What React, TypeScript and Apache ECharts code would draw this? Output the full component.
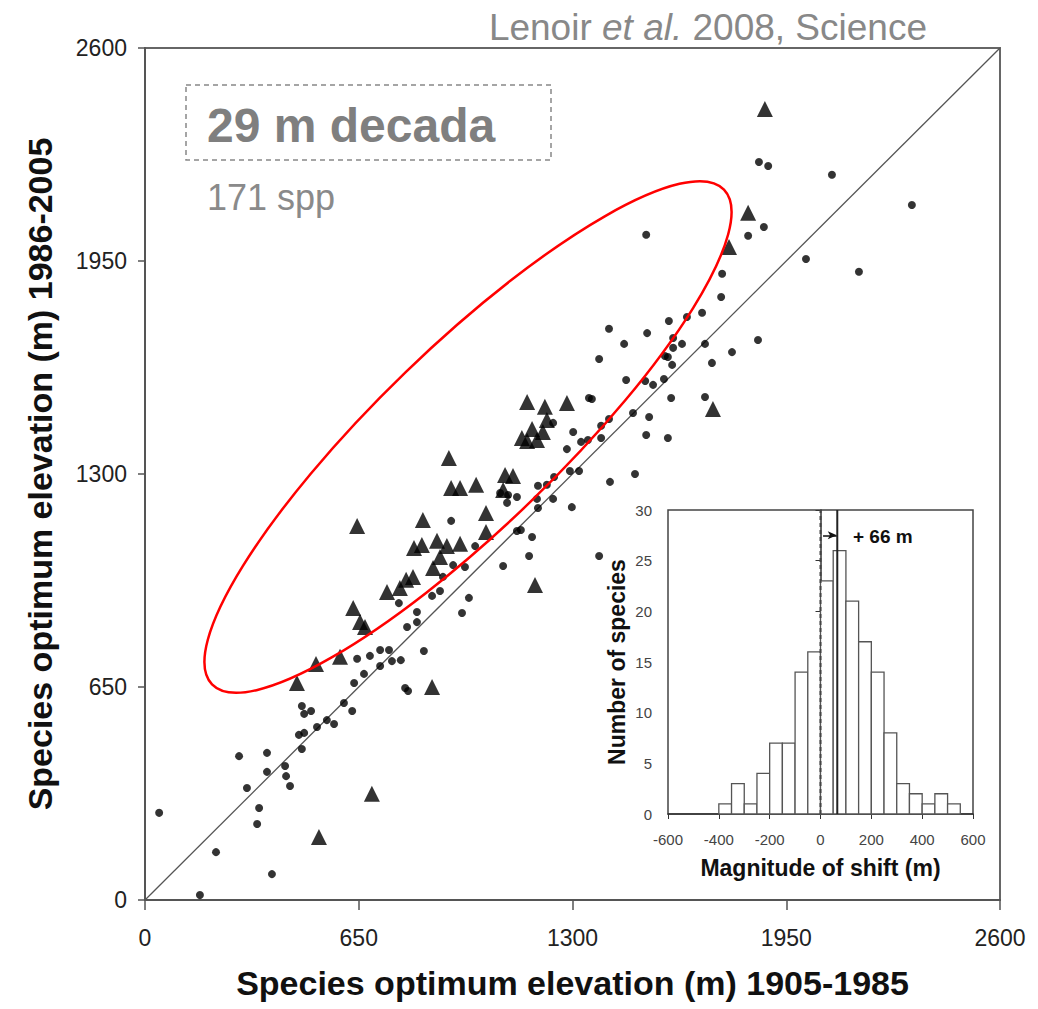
import React, { useEffect, useRef } from "react";
import * as echarts from "echarts";

// Main scatter: species optimum elevation (m), [1905-1985, 1986-2005]
const circlePoints: [number, number][] = [
  [167, 15], [386, 79], [216, 146], [43, 266], [341, 232], [347, 281], [310, 342], [441, 348],
  [429, 378], [371, 391], [426, 409], [286, 439], [371, 449], [477, 461], [468, 504], [484, 510],
  [523, 528], [575, 537], [553, 549], [484, 568], [505, 577], [477, 592], [605, 601], [630, 577],
  [791, 647], [800, 638], [636, 662], [666, 690], [715, 714], [751, 729], [778, 732], [645, 736],
  [684, 745], [715, 763], [742, 763], [848, 760], [772, 906], [797, 833], [827, 848], [827, 879],
  [964, 876], [985, 922], [873, 928], [897, 943], [906, 986], [937, 1022], [973, 1016], [1004, 1080],
  [1089, 1019], [931, 1157], [1080, 1242], [1104, 1236], [1131, 1230], [1101, 1212], [1131, 1126],
  [1143, 1129], [1177, 1108], [1168, 1050], [1192, 1224], [1241, 1224], [1195, 1196], [1298, 1199],
  [1195, 1264], [1222, 1267], [1244, 1291], [1292, 1309], [1320, 1309], [1283, 1376], [1326, 1398],
  [1347, 1404], [1302, 1428], [1241, 1456], [1350, 1532], [1387, 1447], [1411, 1468], [1359, 1529],
  [1387, 1410], [1484, 1486], [1533, 1474], [1524, 1419], [1590, 1410], [1600, 1532], [1703, 1535],
  [1463, 1587], [1521, 1584], [1545, 1572], [1578, 1590], [1381, 1651], [1581, 1660], [1590, 1657],
  [1603, 1633], [1606, 1715], [1606, 1685], [1633, 1697], [1703, 1697], [1724, 1639], [1785, 1672],
  [1864, 1709], [1411, 1743], [1527, 1730], [1457, 1697], [1593, 1767], [1648, 1779], [1694, 1792],
  [1752, 1840], [1755, 1911], [1524, 2030], [1834, 2027], [1882, 2054], [1867, 2252], [1895, 2240],
  [2089, 2213], [2332, 2121], [2010, 1956], [2171, 1917], [1490, 1300], [1414, 1276], [1381, 1050]
];

const trianglePoints: [number, number][] = [
  [529, 192], [690, 324], [873, 650], [462, 662], [520, 720], [593, 742], [645, 1141], [633, 891],
  [654, 848], [669, 833], [736, 940], [775, 952], [815, 986], [794, 977], [876, 1013], [897, 1047],
  [888, 1096], [818, 1074], [842, 1083], [918, 1080], [958, 1087], [845, 1160], [924, 1349],
  [931, 1257], [958, 1257], [1007, 1267], [1037, 1181], [1037, 1123], [1095, 1297], [1119, 1294],
  [1089, 1251], [1162, 1520], [1283, 1517], [1216, 1505], [1222, 1465], [1177, 1437], [1210, 1428],
  [1146, 1410], [1162, 1401], [1192, 1404], [1186, 961], [1727, 1498], [1776, 1993], [1834, 2097],
  [1885, 2414]
];

const mainTicks = [0, 650, 1300, 1950, 2600];
const oneToOne: [number, number][] = [[0, 0], [2600, 2600]];

// Inset histogram: magnitude of shift (m)
const binStarts = [-400, -350, -300, -250, -200, -150, -100, -50, 0, 50, 100, 150, 200, 250, 300, 350, 400, 450, 500];
const binCounts = [1, 3, 1, 4, 7, 7, 14, 16, 23, 26, 21, 17, 14, 8, 3, 2, 1, 2, 1];
const binWidth = 50;
const insetXTicks = [-600, -400, -200, 0, 200, 400, 600];
const insetYTicks = [0, 5, 10, 15, 20, 25, 30];
const meanShift = 66;
const arrowY = 27.5;

const plain = (v: number) => String(v);

export default function App() {
  const ref = useRef<HTMLDivElement>(null);

  useEffect(() => {
    if (!ref.current) return;
    const chart = echarts.init(ref.current, null, { renderer: "svg" });

    const histData = binStarts.map((s, i) => [s, s + binWidth, binCounts[i]]);

    const option: any = {
      animation: false,
      backgroundColor: "#ffffff",
      grid: [
        {
          left: 145, top: 48, width: 855, height: 852,
          show: true, borderColor: "#666", borderWidth: 2, backgroundColor: "transparent"
        },
        {
          left: 668, top: 510, width: 305, height: 304,
          show: true, borderColor: "#444", borderWidth: 1.5, backgroundColor: "#fff"
        }
      ],
      xAxis: [
        {
          gridIndex: 0, type: "value",
          min: mainTicks[0], max: mainTicks[mainTicks.length - 1], interval: mainTicks[1] - mainTicks[0],
          name: "Species optimum elevation (m) 1905-1985",
          nameLocation: "middle", nameGap: 66,
          nameTextStyle: { fontFamily: "Liberation Sans, Arial", fontWeight: "bold", fontSize: 34, color: "#111" },
          axisLine: { show: true, lineStyle: { color: "#555", width: 2 } },
          axisTick: { show: true, length: 10, lineStyle: { color: "#555", width: 1.5 } },
          axisLabel: { fontFamily: "Liberation Sans, Arial", fontSize: 23, color: "#222", margin: 26, formatter: plain },
          splitLine: { show: false }
        },
        {
          gridIndex: 1, type: "value",
          min: insetXTicks[0], max: insetXTicks[insetXTicks.length - 1], interval: insetXTicks[1] - insetXTicks[0],
          name: "Magnitude of shift (m)",
          nameLocation: "middle", nameGap: 42,
          nameTextStyle: { fontFamily: "Liberation Sans, Arial", fontWeight: "bold", fontSize: 23, color: "#111" },
          axisLine: { show: true, lineStyle: { color: "#333", width: 1.5 } },
          axisTick: { show: true, length: 5, lineStyle: { color: "#333" } },
          axisLabel: { fontFamily: "Liberation Sans, Arial", fontSize: 15, color: "#444", margin: 18, formatter: plain },
          splitLine: { show: false }
        }
      ],
      yAxis: [
        {
          gridIndex: 0, type: "value",
          min: mainTicks[0], max: mainTicks[mainTicks.length - 1], interval: mainTicks[1] - mainTicks[0],
          name: "Species optimum elevation (m) 1986-2005",
          nameLocation: "middle", nameGap: 88, nameRotate: 90,
          nameTextStyle: { fontFamily: "Liberation Sans, Arial", fontWeight: "bold", fontSize: 34, color: "#111" },
          axisLine: { show: true, lineStyle: { color: "#555", width: 2 } },
          axisTick: { show: true, length: 7, lineStyle: { color: "#555", width: 1.5 } },
          axisLabel: { fontFamily: "Liberation Sans, Arial", fontSize: 23, color: "#222", margin: 18, formatter: plain },
          splitLine: { show: false }
        },
        {
          gridIndex: 1, type: "value",
          min: insetYTicks[0], max: insetYTicks[insetYTicks.length - 1], interval: insetYTicks[1] - insetYTicks[0],
          name: "Number of species",
          nameLocation: "middle", nameGap: 40, nameRotate: 90,
          nameTextStyle: { fontFamily: "Liberation Sans, Arial", fontWeight: "bold", fontSize: 23, color: "#111" },
          axisLine: { show: true, lineStyle: { color: "#333", width: 1.5 } },
          axisTick: { show: true, length: 5, lineStyle: { color: "#333" } },
          axisLabel: { fontFamily: "Liberation Sans, Arial", fontSize: 15, color: "#444", margin: 16 },
          splitLine: { show: false }
        }
      ],
      series: [
        {
          type: "line", xAxisIndex: 0, yAxisIndex: 0, data: oneToOne,
          symbol: "none", lineStyle: { color: "#555", width: 1.3 }, z: 1, silent: true
        },
        {
          type: "scatter", xAxisIndex: 0, yAxisIndex: 0, data: circlePoints,
          symbol: "circle", symbolSize: 8, itemStyle: { color: "#000" }, z: 3
        },
        {
          type: "scatter", xAxisIndex: 0, yAxisIndex: 0, data: trianglePoints,
          symbol: "triangle", symbolSize: 16, itemStyle: { color: "#000" }, z: 3
        },
        {
          type: "custom", xAxisIndex: 1, yAxisIndex: 1, data: histData,
          encode: { x: [0, 1], y: 2 },
          renderItem: (params: any, api: any) => {
            const p0 = api.coord([api.value(0), api.value(2)]);
            const p1 = api.coord([api.value(1), 0]);
            return {
              type: "rect",
              shape: { x: p0[0], y: p0[1], width: p1[0] - p0[0], height: p1[1] - p0[1] },
              style: { fill: "#fff", stroke: "#555", lineWidth: 1.3 }
            };
          },
          z: 5
        },
        {
          type: "line", xAxisIndex: 1, yAxisIndex: 1,
          data: [[0, insetYTicks[0]], [0, insetYTicks[insetYTicks.length - 1]]],
          symbol: "none", lineStyle: { color: "#444", width: 2, type: [4, 3] }, z: 6
        },
        {
          type: "line", xAxisIndex: 1, yAxisIndex: 1,
          data: [[meanShift, insetYTicks[0]], [meanShift, insetYTicks[insetYTicks.length - 1]]],
          symbol: "none", lineStyle: { color: "#222", width: 2 }, z: 6,
          markLine: {
            silent: true,
            symbol: ["none", "arrow"], symbolSize: [6, 9],
            label: { show: false },
            lineStyle: { color: "#111", width: 1.5, type: "solid" },
            data: [[{ coord: [10, arrowY] }, { coord: [meanShift - 2, arrowY] }]]
          }
        }
      ],
      graphic: [
        {
          type: "ellipse", x: 468, y: 437, rotation: (44 * Math.PI) / 180,
          shape: { cx: 0, cy: 0, rx: 356, ry: 90 },
          style: { fill: "transparent", stroke: "#ff0000", lineWidth: 2.5 }, z: 10, silent: true
        },
        {
          type: "rect", shape: { x: 186, y: 85, width: 365, height: 75 },
          style: { fill: "transparent", stroke: "#888", lineWidth: 1.5, lineDash: [5, 4] }, z: 10
        },
        {
          type: "text", x: 207, y: 125,
          style: {
            text: "29 m decada", fill: "#7f7f7f", font: "bold 48px 'Liberation Sans', Arial",
            verticalAlign: "middle"
          }, z: 10
        },
        {
          type: "text", x: 207, y: 197,
          style: {
            text: "171 spp", fill: "#8a8a8a", font: "36px 'Liberation Sans', Arial",
            verticalAlign: "middle"
          }, z: 10
        },
        {
          type: "text", x: 927, y: 27,
          style: {
            text: "{n|Lenoir }{i|et al.}{n| 2008, Science}",
            align: "right", verticalAlign: "middle",
            rich: {
              n: { fill: "#888", fontSize: 37, fontFamily: "Liberation Sans, Arial" },
              i: { fill: "#888", fontSize: 37, fontFamily: "Liberation Sans, Arial", fontStyle: "italic" }
            }
          }, z: 10
        },
        {
          type: "text", x: 853, y: 536,
          style: {
            text: "+ 66 m", fill: "#111", font: "bold 19px 'Liberation Sans', Arial",
            verticalAlign: "middle"
          }, z: 10
        }
      ]
    };

    chart.setOption(option);
    return () => chart.dispose();
  }, []);

  return (
    <div
      ref={ref}
      style={{ position: "fixed", left: 0, top: 0, width: 1038, height: 1009, background: "#fff" }}
    />
  );
}
